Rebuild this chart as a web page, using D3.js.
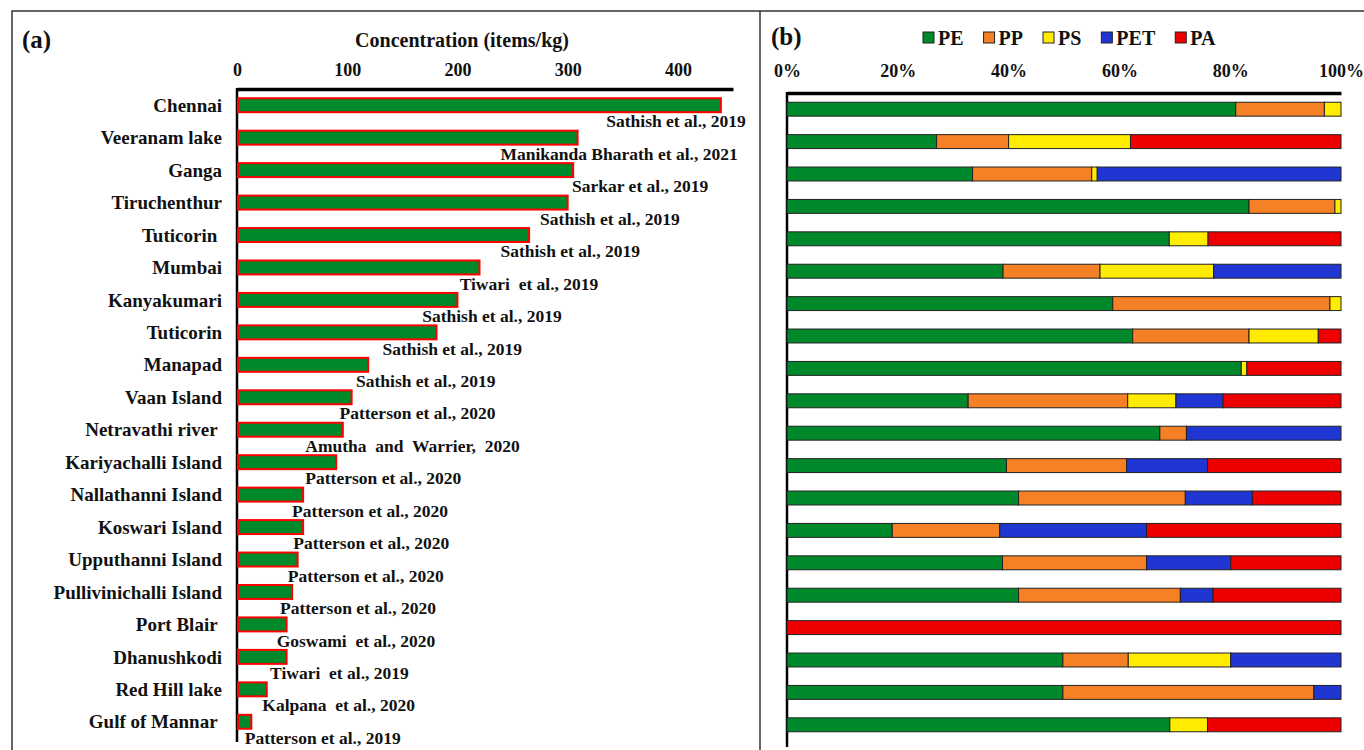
<!DOCTYPE html>
<html>
<head>
<meta charset="utf-8">
<script src="https://cdn.jsdelivr.net/npm/d3@7"></script>
<style>
  body { margin: 0; background: #fff; }
  svg text { font-family: "Liberation Serif", "Times New Roman", serif; font-weight: bold; fill: #111; }
  .cite { white-space: pre; }
</style>
</head>
<body>
<div id="chart"></div>
<script>
// site names (top to bottom)
var sites = ["Chennai", "Veeranam lake", "Ganga", "Tiruchenthur", "Tuticorin ", "Mumbai", "Kanyakumari",
  "Tuticorin", "Manapad", "Vaan Island", "Netravathi river ", "Kariyachalli Island", "Nallathanni Island",
  "Koswari Island", "Upputhanni Island", "Pullivinichalli Island", "Port Blair ", "Dhanushkodi",
  "Red Hill lake", "Gulf of Mannar "]

// concentration, items/kg
var conc = [439, 309, 305, 300, 265, 220, 200, 181, 119, 104, 96, 90, 60, 60, 55, 50, 45, 45, 27, 13]

// source of each value, and where its label was dropped (items/kg units)
var cites = ["Sathish et al., 2019", "Manikanda Bharath et al., 2021", "Sarkar et al., 2019",
  "Sathish et al., 2019", "Sathish et al., 2019", "Tiwari  et al., 2019", "Sathish et al., 2019",
  "Sathish et al., 2019", "Sathish et al., 2019", "Patterson et al., 2020", "Amutha  and  Warrier,  2020",
  "Patterson et al., 2020", "Patterson et al., 2020", "Patterson et al., 2020", "Patterson et al., 2020",
  "Patterson et al., 2020", "Goswami  et al., 2020", "Tiwari  et al., 2019", "Kalpana  et al., 2020",
  "Patterson et al., 2019"]
var citeAt = [335, 239, 304, 275, 239, 202, 168, 132, 108, 93, 62, 62, 50, 51, 46, 39, 36, 30, 23, 7]

var concTicks = [0, 100, 200, 300, 400]
var pctTicks = [0, 20, 40, 60, 80, 100]

// polymer shares, %
var polymers = ["PE", "PP", "PS", "PET", "PA"]
var pe  = [81, 27, 33.5, 83.4, 69, 39, 58.8, 62.4, 82, 32.7, 67.3, 39.6, 41.8, 19, 38.9, 41.8, 0, 49.8, 49.8, 69.1]
var pp  = [16, 13, 21.5, 15.5, 0, 17.5, 39.2, 21, 0, 28.8, 4.8, 21.7, 30.1, 19.4, 26, 29.2, 0, 11.8, 45.3, 0]
var ps  = [3, 22, 1, 1.1, 7, 20.5, 2, 12.5, 1, 8.7, 0, 0, 0, 0, 0, 0, 0, 18.5, 0, 6.8]
var pet = [0, 0, 44, 0, 0, 23, 0, 0, 0, 8.5, 27.9, 14.6, 12.1, 26.5, 15.2, 5.9, 0, 19.9, 4.9, 0]
var pa  = [0, 38, 0, 0, 24, 0, 0, 4.1, 17, 21.3, 0, 24.1, 16, 35.1, 19.9, 23.1, 100, 0, 0, 24.1]

var colors = {PE: "#00892b", PP: "#f58025", PS: "#ffec00", PET: "#1f36d2", PA: "#ee0000"}

var W = 1364, H = 750
var svg = d3.select("#chart").append("svg").attr("width", W).attr("height", H)

// outer frame + divider
svg.append("path")
  .attr("d", "M12," + (H + 5) + "V11H" + (W + 5) + "M760,11V" + (H + 5))
  .attr("fill", "none").attr("stroke", "#333").attr("stroke-width", 1.5)

var idx = d3.range(sites.length)

// ---------- (a) concentration ----------
var x = d3.scaleLinear().domain([0, 450]).range([237, 733])
var y = d3.scaleBand().domain(idx).range([89, 738]).paddingInner(0.57).paddingOuter(0.285)

svg.append("text").attr("x", 22).attr("y", 48).style("font-size", "25px").text("(a)")
svg.append("text").attr("x", 462).attr("y", 47).attr("text-anchor", "middle")
  .style("font-size", "20px").text("Concentration (items/kg)")

var ax = svg.append("g").attr("transform", "translate(0,89)")
  .call(d3.axisTop(x).tickValues(concTicks).tickSize(0).tickPadding(13))
ax.select(".domain").attr("stroke", "#000").attr("stroke-width", 3.5)
ax.selectAll("text").style("font-size", "18px").style("font-family", null)

svg.append("line").attr("x1", x(0)).attr("x2", x(0)).attr("y1", 88).attr("y2", 742)
  .attr("stroke", "#000").attr("stroke-width", 2.5)

svg.append("g").selectAll("rect").data(idx).join("rect")
  .attr("x", x(0) + 1)
  .attr("y", function(i) { return y(i) })
  .attr("width", function(i) { return x(conc[i]) - x(0) - 1 })
  .attr("height", y.bandwidth())
  .attr("fill", "#00892b").attr("stroke", "#ff0000").attr("stroke-width", 2)

svg.append("g").selectAll("text").data(idx).join("text")
  .attr("class", "cite")
  .attr("x", 222)
  .attr("y", function(i) { return y(i) + y.bandwidth() / 2 })
  .attr("dy", "0.35em").attr("text-anchor", "end")
  .style("font-size", "19px")
  .text(function(i) { return sites[i] })

svg.append("g").selectAll("text").data(idx).join("text")
  .attr("class", "cite")
  .attr("x", function(i) { return x(citeAt[i]) })
  .attr("y", function(i) { return y(i) + y.bandwidth() / 2 + 16 })
  .attr("dy", "0.35em")
  .style("font-size", "17.5px")
  .text(function(i) { return cites[i] })

// ---------- (b) polymer composition ----------
var rows = idx.map(function(i) {
  return {PE: pe[i], PP: pp[i], PS: ps[i], PET: pet[i], PA: pa[i], i: i}
})
var stack = d3.stack().keys(polymers).offset(d3.stackOffsetExpand)(rows)

var px = d3.scaleLinear().domain([0, 1]).range([787, 1341])
var py = d3.scaleBand().domain(idx).range([93, 741]).paddingInner(0.57).paddingOuter(0.285)

svg.append("text").attr("x", 771).attr("y", 45).style("font-size", "25px").text("(b)")

var pax = svg.append("g").attr("transform", "translate(0,93)")
  .call(d3.axisTop(px).tickValues(pctTicks.map(function(d) { return d / 100 }))
    .tickFormat(d3.format(".0%")).tickSize(0).tickPadding(16))
pax.select(".domain").attr("stroke", "#000").attr("stroke-width", 3.5)
pax.selectAll("text").style("font-size", "18px").style("font-family", null)

svg.append("line").attr("x1", px(0)).attr("x2", px(0)).attr("y1", 92).attr("y2", 747)
  .attr("stroke", "#000").attr("stroke-width", 2.5)

svg.append("g").selectAll("g").data(stack).join("g")
  .attr("fill", function(s) { return colors[s.key] })
  .selectAll("rect").data(function(s) { return s.filter(function(d) { return d[1] > d[0] }) })
  .join("rect")
  .attr("x", function(d) { return px(d[0]) })
  .attr("y", function(d) { return py(d.data.i) })
  .attr("width", function(d) { return px(d[1]) - px(d[0]) })
  .attr("height", py.bandwidth())
  .attr("stroke", "#222").attr("stroke-width", 1)

// legend
var lx = 923
polymers.forEach(function(k) {
  svg.append("rect").attr("x", lx).attr("y", 32).attr("width", 11).attr("height", 11)
    .attr("fill", colors[k]).attr("stroke", "#222").attr("stroke-width", 1)
  var t = svg.append("text").attr("x", lx + 15).attr("y", 44.5).style("font-size", "20px").text(k)
  lx += 15 + t.node().getComputedTextLength() + 20
})
</script>
</body>
</html>
